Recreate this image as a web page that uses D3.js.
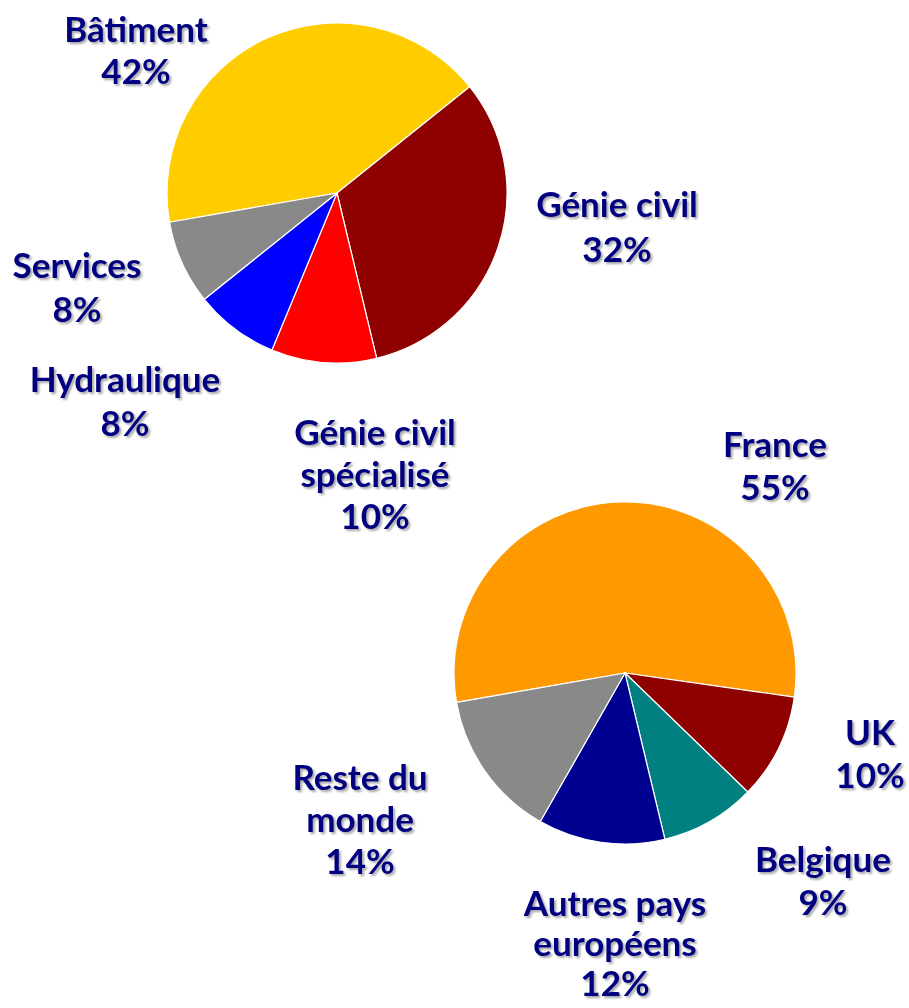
<!DOCTYPE html>
<html>
<head>
<meta charset="utf-8">
<script src="https://cdn.jsdelivr.net/npm/d3@7"></script>
<style>
  html, body { margin: 0; padding: 0; background: #ffffff; }
  svg { display: block; }
  .lbl { font-family: Lato, "Open Sans", sans-serif; font-weight: bold; fill: #000080;
         filter: drop-shadow(2px 2px 1px rgba(0,0,0,0.35)); }
</style>
</head>
<body>
<svg id="chart" width="909" height="1008"></svg>
<script>
// ---- Data: activity breakdown (top pie) ----
const activityCategories = ["Bâtiment", "Génie civil", "Génie civil spécialisé", "Hydraulique", "Services"];
const activityValues = [42, 32, 10, 8, 8];
const activityColors = ["#FFCC00", "#8F0000", "#FF0000", "#0000FF", "#898989"];
const activityLabelLines = [["Bâtiment", "42%"], ["Génie civil", "32%"], ["Génie civil", "spécialisé", "10%"], ["Hydraulique", "8%"], ["Services", "8%"]];

// ---- Data: geographic breakdown (bottom pie) ----
const geoCategories = ["France", "UK", "Belgique", "Autres pays européens", "Reste du monde"];
const geoValues = [55, 10, 9, 12, 14];
const geoColors = ["#FF9900", "#8F0000", "#008080", "#000090", "#898989"];
const geoLabelLines = [["France", "55%"], ["UK", "10%"], ["Belgique", "9%"], ["Autres pays", "européens", "12%"], ["Reste du", "monde", "14%"]];

// ---- Layout (positions only, not data) ----
const topPie = { cx: 337, cy: 193, r: 170 };
const botPie = { cx: 625, cy: 673, r: 171 };
const startDeg = -99.9;
const activityLabelPos = [[136, 42], [617, 217], [375, 445], [125, 392], [77, 278]];
const activityGap = [42, 45, 42, 44, 44];
const geoLabelPos = [[775, 457], [870, 745], [823, 872], [615, 916], [360, 790]];
const geoGap = [43, 43, 43, 40, 42];
const fontSize = 35;

const svg = d3.select("#chart");

function drawPie(cfg, values, colors, names, lines, lpos, gaps) {
  const pie = d3.pie().sort(null).value(d => d)
    .startAngle(startDeg * Math.PI / 180)
    .endAngle((startDeg + 360) * Math.PI / 180);
  const arc = d3.arc().innerRadius(0).outerRadius(cfg.r);
  const g = svg.append("g").attr("transform", `translate(${cfg.cx},${cfg.cy})`);
  g.selectAll("path").data(pie(values)).join("path")
    .attr("d", arc)
    .attr("fill", (d, i) => colors[i])
    .attr("stroke", "#ffffff")
    .attr("stroke-width", 1.2)
    .attr("stroke-linejoin", "round");

  const lg = svg.append("g");
  names.forEach((n, i) => {
    const t = lg.append("text").attr("class", "lbl")
      .attr("text-anchor", "middle")
      .attr("font-size", fontSize)
      .attr("x", lpos[i][0]).attr("y", lpos[i][1]);
    lines[i].forEach((ln, k) => {
      t.append("tspan").attr("x", lpos[i][0]).attr("dy", k === 0 ? 0 : gaps[i]).text(ln);
    });
  });
}

drawPie(topPie, activityValues, activityColors, activityCategories, activityLabelLines, activityLabelPos, activityGap);
drawPie(botPie, geoValues, geoColors, geoCategories, geoLabelLines, geoLabelPos, geoGap);
</script>
</body>
</html>
